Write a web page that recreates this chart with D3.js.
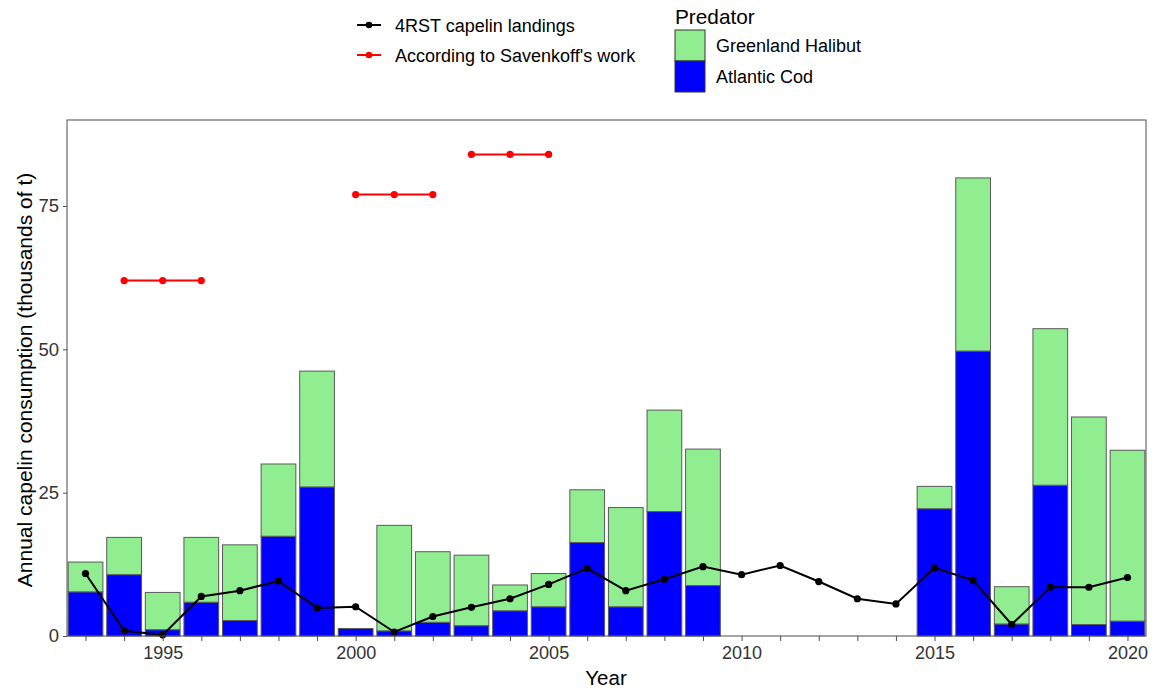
<html>
<head>
  <meta charset="UTF-8" />
  <title>Capelin consumption</title>
  <script src="https://d3js.org/d3.v7.min.js"></script>
  <style>
    body { margin: 0; background: white; font-family: "Liberation Sans", Arial, sans-serif; }
    .tick text { font-family: "Liberation Sans", Arial, sans-serif; }
  </style>
</head>
<body>
<svg id="chart" width="1156" height="690"></svg>
<script>
  // bar years and consumption by predator (thousands of t)
  var barYears = [1993,1994,1995,1996,1997,1998,1999,2000,2001,2002,2003,2004,2005,2006,2007,2008,2009,2015,2016,2017,2018,2019,2020];
  var codValues = [7.7,10.7,1.1,5.9,2.7,17.4,26.0,1.3,0.9,2.4,1.8,4.4,5.1,16.3,5.1,21.7,8.8,22.2,49.7,2.1,26.3,2.0,2.6];
  var halibutValues = [5.2,6.5,6.5,11.3,13.2,12.6,20.2,0,18.4,12.3,12.3,4.5,5.8,9.2,17.3,17.7,23.8,3.9,30.2,6.5,27.3,36.2,29.8];

  // 4RST capelin landings
  var landingYears = [1993,1994,1995,1996,1997,1998,1999,2000,2001,2002,2003,2004,2005,2006,2007,2008,2009,2010,2011,2012,2013,2014,2015,2016,2017,2018,2019,2020];
  var landingValues = [10.9,0.9,0.2,6.9,7.9,9.6,4.9,5.1,0.7,3.4,5.0,6.5,9.0,11.8,7.9,9.9,12.1,10.7,12.3,9.5,6.5,5.6,11.9,9.7,2.0,8.5,8.5,10.2];

  // Savenkoff estimates, three periods
  var savYears = [1994,1995,1996,2000,2001,2002,2003,2004,2005];
  var savValues = [62,62,62,77,77,77,84,84,84];
  var savPeriod = [1,1,1,2,2,2,3,3,3];

  var yTicks = [0,25,50,75];
  var xTicks = [1995,2000,2005,2010,2015,2020];
  var predatorLabels = ["Greenland Halibut","Atlantic Cod"];
  var lineLabels = ["4RST capelin landings","According to Savenkoff's work"];

  var svg = d3.select("#chart");
  var margin = { left: 67, right: 1146, top: 120, bottom: 636 };

  var xScale = d3.scaleLinear().domain([1992.52, 2020.48]).range([margin.left, margin.right]);
  var yScale = d3.scaleLinear().domain([0, 90]).range([margin.bottom, margin.top]);
  var bw = (xScale(1) - xScale(0)) * 0.9;

  // bars
  var bars = svg.append("g");
  barYears.forEach(function(yr, i) {
    var cod = codValues[i], hal = halibutValues[i];
    bars.append("rect")
      .attr("x", xScale(yr) - bw/2).attr("width", bw)
      .attr("y", yScale(cod)).attr("height", yScale(0) - yScale(cod))
      .style("fill", "#0000ff").style("stroke", "#595959").style("stroke-width", 1);
    if (hal > 0) {
      bars.append("rect")
        .attr("x", xScale(yr) - bw/2).attr("width", bw)
        .attr("y", yScale(cod + hal)).attr("height", yScale(cod) - yScale(cod + hal))
        .style("fill", "#90ee90").style("stroke", "#595959").style("stroke-width", 1);
    }
  });

  // landings line
  var line = d3.line().x(function(d) { return xScale(d[0]); }).y(function(d) { return yScale(d[1]); });
  var landPts = landingYears.map(function(y, i) { return [y, landingValues[i]]; });
  svg.append("path").attr("d", line(landPts))
    .style("fill", "none").style("stroke", "black").style("stroke-width", 2);
  landPts.forEach(function(p) {
    svg.append("circle").attr("cx", xScale(p[0])).attr("cy", yScale(p[1])).attr("r", 3.6).style("fill", "black");
  });

  // savenkoff lines
  [1,2,3].forEach(function(g) {
    var pts = [];
    savYears.forEach(function(y, i) { if (savPeriod[i] == g) pts.push([y, savValues[i]]); });
    svg.append("path").attr("d", line(pts))
      .style("fill", "none").style("stroke", "red").style("stroke-width", 2);
    pts.forEach(function(p) {
      svg.append("circle").attr("cx", xScale(p[0])).attr("cy", yScale(p[1])).attr("r", 3.6).style("fill", "red");
    });
  });

  // panel border
  svg.append("rect").attr("x", margin.left).attr("y", margin.top)
    .attr("width", margin.right - margin.left).attr("height", margin.bottom - margin.top)
    .style("fill", "none").style("stroke", "#4d4d4d").style("stroke-width", 1);

  // axes
  var leftAxis = d3.axisLeft(yScale).tickValues(yTicks).tickSize(4).tickPadding(4);
  var gy = svg.append("g").attr("transform", "translate(" + margin.left + ",0)").call(leftAxis);
  gy.select(".domain").remove();
  gy.selectAll("line").style("stroke", "#4d4d4d");
  gy.selectAll("text").style("font-size", "18.5px").style("fill", "#333");

  var bottomAxis = d3.axisBottom(xScale).tickValues(landingYears).tickSize(5).tickPadding(5)
    .tickFormat(function(d) { return xTicks.indexOf(d) >= 0 ? d : ""; });
  var gx = svg.append("g").attr("transform", "translate(0," + margin.bottom + ")").call(bottomAxis);
  gx.select(".domain").remove();
  gx.selectAll("line").style("stroke", "#4d4d4d");
  gx.selectAll("text").style("font-size", "18px").style("fill", "#333");

  svg.append("text").attr("x", 606).attr("y", 685).attr("text-anchor", "middle")
    .style("font-size", "20.5px").text("Year");
  svg.append("text").attr("transform", "translate(32,380) rotate(-90)")
    .attr("text-anchor", "middle").style("font-size", "21px")
    .text("Annual capelin consumption (thousands of t)");

  // line legend
  var lineColors = ["black", "red"];
  lineLabels.forEach(function(lab, i) {
    var ly = 25 + i * 30;
    svg.append("line").attr("x1", 357).attr("x2", 381).attr("y1", ly).attr("y2", ly)
      .style("stroke", lineColors[i]).style("stroke-width", 2);
    svg.append("circle").attr("cx", 369).attr("cy", ly).attr("r", 3.3).style("fill", lineColors[i]);
    svg.append("text").attr("x", 395).attr("y", ly + 6.5).style("font-size", "18px").text(lab);
  });

  // predator legend
  svg.append("text").attr("x", 675).attr("y", 24).style("font-size", "20.8px").text("Predator");
  var predColors = ["#90ee90", "#0000ff"];
  predatorLabels.forEach(function(lab, i) {
    var ky = 30 + i * 31;
    svg.append("rect").attr("x", 675).attr("y", ky).attr("width", 30).attr("height", 31)
      .style("fill", predColors[i]).style("stroke", "#333").style("stroke-width", 1);
    svg.append("text").attr("x", 716).attr("y", ky + 22).style("font-size", "18px").text(lab);
  });
</script>
</body>
</html>
